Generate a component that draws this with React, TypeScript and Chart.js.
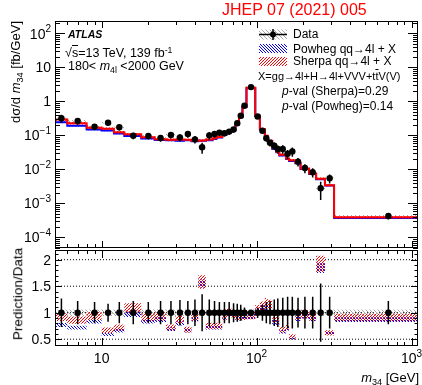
import React, { useEffect, useRef } from "react";
import { Chart, registerables } from "chart.js";
Chart.register(...registerables);

const FONT = '"Liberation Sans", Arial, Helvetica, sans-serif';

// ---- data ----
const binEdges = [5, 6, 8, 10, 12, 14, 18, 22, 26, 30, 34, 38, 42, 47, 52, 55, 60, 64, 69, 73, 77, 81, 86, 98, 105, 113, 118, 126, 134, 140, 155, 162, 178, 192, 218, 242, 276, 316, 1100];
const dataValues = [0.32, 0.267, 0.18, 0.238, 0.174, 0.099, 0.097, 0.084, 0.104, 0.088, 0.11, 0.077, 0.045, 0.101, 0.11, 0.121, 0.116, 0.13, 0.15, 0.23, 0.38, 0.75, 2.65, 0.36, 0.138, 0.083, 0.061, 0.05, 0.04, 0.04, 0.029, 0.034, 0.017, 0.011, 0.0083, 0.0028, 0.0055, 0.00043];
const dataRelErr = [0.27, 0.22, 0.2, 0.17, 0.2, 0.22, 0.2, 0.22, 0.22, 0.24, 0.22, 0.25, 0.35, 0.25, 0.22, 0.2, 0.2, 0.2, 0.18, 0.17, 0.15, 0.1, 0.05, 0.1, 0.15, 0.2, 0.22, 0.25, 0.27, 0.28, 0.3, 0.3, 0.28, 0.3, 0.3, 0.55, 0.3, 0.22];
const sherpaValues = [0.294, 0.23, 0.169, 0.159, 0.125, 0.108, 0.0883, 0.0781, 0.0749, 0.0766, 0.0748, 0.0701, 0.0711, 0.0758, 0.0825, 0.0908, 0.108, 0.13, 0.1455, 0.214, 0.35, 0.705, 2.52, 0.382, 0.155, 0.098, 0.0702, 0.044, 0.034, 0.0272, 0.0212, 0.0187, 0.01564, 0.01067, 0.00764, 0.00538, 0.00341, 0.000391];
const powhegValues = [0.246, 0.192, 0.151, 0.14, 0.115, 0.096, 0.0815, 0.0731, 0.0718, 0.0704, 0.0726, 0.0678, 0.0698, 0.0727, 0.0792, 0.0871, 0.1044, 0.1274, 0.1425, 0.2093, 0.342, 0.69, 2.46, 0.371, 0.149, 0.093, 0.0671, 0.041, 0.032, 0.0256, 0.0203, 0.01768, 0.01513, 0.01034, 0.00739, 0.00515, 0.003355, 0.000374];
const dataSystRel = 0.06;
const sherpaRelUnc = 0.08;
const powhegRelUnc = 0.05;

const xMin = 5, xMax = 1100;
const yMainMin = 4.9e-5, yMainMax = 233;
const yRatioMin = 0.372, yRatioMax = 2.183;

const mainYTicks = [
  { v: 100, b: "10", e: "2" },
  { v: 10, b: "10", e: "" },
  { v: 1, b: "1", e: "" },
  { v: 0.1, b: "10", e: "\u22121" },
  { v: 0.01, b: "10", e: "\u22122" },
  { v: 0.001, b: "10", e: "\u22123" },
  { v: 0.0001, b: "10", e: "\u22124" },
];
const ratioYTicks = [0.5, 1, 1.5, 2];
const ratioYTickLabels = ["0.5", "1", "1.5", "2"];
const ratioRefLines = [0.5, 1, 1.5, 2];
const xTickLabels = [
  { v: 10, b: "10", e: "" },
  { v: 100, b: "10", e: "2" },
  { v: 1000, b: "10", e: "3" },
];

// ---- helpers ----
const centers = binEdges.slice(0, -1).map((e, i) => (e + binEdges[i + 1]) / 2);

function steps(vals: number[]) {
  const pts: any[] = [];
  vals.forEach((v, i) => {
    pts.push({ x: binEdges[i], y: v });
    pts.push({ x: binEdges[i + 1], y: v });
  });
  return pts;
}
function errSegs(lo: number[], hi: number[]) {
  const pts: any[] = [];
  centers.forEach((c, i) => {
    pts.push({ x: c, y: lo[i] }, { x: c, y: hi[i] }, { x: c, y: null });
  });
  return pts;
}
function hatch(target: CanvasRenderingContext2D, color: string, dir: number, size = 3) {
  const c = document.createElement("canvas");
  c.width = size; c.height = size;
  const g = c.getContext("2d")!;
  g.fillStyle = color;
  for (let i = 0; i < size; i++) {
    const y = dir === 1 ? size - 1 - i : i;
    g.fillRect(i, y, 1, 1);
  }
  return target.createPattern(c, "repeat")!;
}
function band(upper: any[], lower: any[], pattern: any, order: number) {
  return [
    { data: upper, borderColor: "rgba(0,0,0,0)", borderWidth: 1, pointRadius: 0, fill: false, order },
    { data: lower, borderColor: "rgba(0,0,0,0)", borderWidth: 1, pointRadius: 0, fill: "-1", backgroundColor: pattern, order },
  ];
}
function drawLabel(ctx: CanvasRenderingContext2D, base: string, exp: string, x: number, y: number, align: string, f = 14) {
  const fe = Math.round(f * 0.72);
  ctx.font = `${f}px ${FONT}`;
  const wb = ctx.measureText(base).width;
  ctx.font = `${fe}px ${FONT}`;
  const we = exp ? ctx.measureText(exp).width : 0;
  const tot = wb + we;
  const x0 = align === "right" ? x - tot : x - tot / 2;
  ctx.textAlign = "left"; ctx.textBaseline = "alphabetic";
  ctx.font = `${f}px ${FONT}`;
  const bl = y + 0.358 * f;
  ctx.fillText(base, x0, bl);
  if (exp) { ctx.font = `${fe}px ${FONT}`; ctx.fillText(exp, x0 + wb, bl - 0.45 * f); }
}
function drawXTicks(ctx: any, xs: any, a: any, major: number, minor: number) {
  for (let k = 0; k <= 3; k++) for (let j = 1; j <= 9; j++) {
    const v = j * Math.pow(10, k);
    if (v < xMin || v > xMax) continue;
    const px = Math.round(xs.getPixelForValue(v)) + 0.5;
    const L = j === 1 ? major : minor;
    ctx.moveTo(px, a.top); ctx.lineTo(px, a.top + L);
    ctx.moveTo(px, a.bottom); ctx.lineTo(px, a.bottom - L);
  }
}

function mainConfig(ctx: CanvasRenderingContext2D): any {
  const red = hatch(ctx, "#ff0000", 1);
  const blue = hatch(ctx, "#0000ff", -1);
  const gray = hatch(ctx, "#a8a8a8", -1, 4);
  const decor = {
    id: "mainDecor",
    afterDraw(chart: any) {
      const c = chart.ctx, a = chart.chartArea, xs = chart.scales.x, ys = chart.scales.y;
      c.save();
      c.strokeStyle = "#000"; c.lineWidth = 1;
      c.strokeRect(a.left + 0.5, a.top + 0.5, a.right - a.left - 1, a.bottom - a.top - 1);
      c.beginPath();
      for (let k = -5; k <= 2; k++) for (let j = 1; j <= 9; j++) {
        const v = j * Math.pow(10, k);
        if (v < yMainMin || v > yMainMax) continue;
        const py = Math.round(ys.getPixelForValue(v)) + 0.5;
        const L = j === 1 ? 10 : 5;
        c.moveTo(a.left, py); c.lineTo(a.left + L, py);
        c.moveTo(a.right, py); c.lineTo(a.right - L, py);
      }
      drawXTicks(c, xs, a, 7, 4);
      c.stroke();
      c.fillStyle = "#000";
      mainYTicks.forEach((t) => drawLabel(c, t.b, t.e, 51, ys.getPixelForValue(t.v), "right", 14));
      // legend symbols
      c.fillStyle = gray; c.fillRect(259, 29.5, 28, 10);
      c.strokeStyle = "#000"; c.lineWidth = 1.5;
      c.beginPath(); c.moveTo(259, 34.5); c.lineTo(287, 34.5); c.moveTo(273, 29); c.lineTo(273, 40); c.stroke();
      c.fillStyle = "#000"; c.beginPath(); c.arc(273, 34.5, 3, 0, Math.PI * 2); c.fill();
      c.fillStyle = blue; c.fillRect(259, 44, 28, 9);
      c.fillStyle = red; c.fillRect(259, 57, 28, 9);
      c.restore();
    },
  };
  const datasets = [
    ...band(steps(dataValues.map((v) => v * (1 + dataSystRel))), steps(dataValues.map((v) => v * (1 - dataSystRel))), gray, 6),
    ...band(steps(powhegValues.map((v) => v * (1 + powhegRelUnc))), steps(powhegValues.map((v) => v * (1 - powhegRelUnc))), blue, 5),
    { data: steps(powhegValues), borderColor: "#0000ff", borderWidth: 2, pointRadius: 0, fill: false, order: 4 },
    ...band(steps(sherpaValues.map((v) => v * (1 + sherpaRelUnc))), steps(sherpaValues.map((v) => v * (1 - sherpaRelUnc))), red, 3),
    { data: steps(sherpaValues), borderColor: "#ff0000", borderWidth: 2, pointRadius: 0, fill: false, order: 2 },
    { data: errSegs(dataValues.map((v, i) => v * (1 - dataRelErr[i])), dataValues.map((v, i) => v * (1 + dataRelErr[i]))), borderColor: "#000", borderWidth: 1.5, pointRadius: 0, fill: false, spanGaps: false, order: 1 },
    { data: centers.map((c, i) => ({ x: c, y: dataValues[i] })), showLine: false, pointRadius: 3.2, pointBackgroundColor: "#000", pointBorderWidth: 0, order: 0 },
  ];
  return {
    type: "line",
    data: { datasets },
    options: {
      animation: false, responsive: false, maintainAspectRatio: false, events: [],
      layout: { padding: { left: 55, right: 3, top: 21, bottom: 137 } },
      plugins: { legend: { display: false }, tooltip: { enabled: false } },
      elements: { line: { tension: 0 } },
      scales: {
        x: { type: "logarithmic", min: xMin, max: xMax, display: false },
        y: { type: "logarithmic", min: yMainMin, max: yMainMax, display: false },
      },
    },
    plugins: [decor],
  };
}

function ratioConfig(ctx: CanvasRenderingContext2D): any {
  const red = hatch(ctx, "#ff0000", 1);
  const blue = hatch(ctx, "#0000ff", -1);
  const gray = hatch(ctx, "#a8a8a8", -1, 4);
  const sherpaRatio = sherpaValues.map((v, i) => v / dataValues[i]);
  const powhegRatio = powhegValues.map((v, i) => v / dataValues[i]);
  const decor = {
    id: "ratioDecor",
    afterDraw(chart: any) {
      const c = chart.ctx, a = chart.chartArea, xs = chart.scales.x, ys = chart.scales.y;
      c.save();
      c.strokeStyle = "#000"; c.lineWidth = 1;
      c.strokeRect(a.left + 0.5, a.top + 0.5, a.right - a.left - 1, a.bottom - a.top - 1);
      c.beginPath();
      for (let i = 4; i <= 21; i++) {
        const v = i / 10;
        if (v < yRatioMin || v > yRatioMax) continue;
        const py = Math.round(ys.getPixelForValue(v)) + 0.5;
        const L = i % 5 === 0 ? 7 : 3.5;
        c.moveTo(a.left, py); c.lineTo(a.left + L, py);
        c.moveTo(a.right, py); c.lineTo(a.right - L, py);
      }
      drawXTicks(c, xs, a, 8, 4);
      c.stroke();
      c.fillStyle = "#000";
      ratioYTicks.forEach((v, i) => drawLabel(c, ratioYTickLabels[i], "", 51, ys.getPixelForValue(v), "right", 14));
      xTickLabels.forEach((t) => drawLabel(c, t.b, t.e, xs.getPixelForValue(t.v), 358, "center", 14));
      c.restore();
    },
  };
  const refPts: any[] = [];
  ratioRefLines.forEach((r) => refPts.push({ x: xMin, y: r }, { x: xMax, y: r }, { x: xMax, y: null }));
  const datasets = [
    { data: refPts, borderColor: "#000", borderWidth: 1, borderDash: [1, 2], pointRadius: 0, fill: false, spanGaps: false, order: 10 },
    ...band([{ x: xMin, y: 1 + dataSystRel }, { x: xMax, y: 1 + dataSystRel }], [{ x: xMin, y: 1 - dataSystRel }, { x: xMax, y: 1 - dataSystRel }], gray, 9),
    ...band(steps(powhegRatio.map((v) => v * (1 + powhegRelUnc))), steps(powhegRatio.map((v) => v * (1 - powhegRelUnc))), blue, 8),
    ...band(steps(sherpaRatio.map((v) => v * (1 + sherpaRelUnc))), steps(sherpaRatio.map((v) => v * (1 - sherpaRelUnc))), red, 7),
    { data: errSegs(dataRelErr.map((e) => 1 - e), dataRelErr.map((e) => 1 + e)), borderColor: "#000", borderWidth: 1.5, pointRadius: 0, fill: false, spanGaps: false, order: 1 },
    { data: centers.map((c, i) => ({ x: c, y: dataValues[i] / dataValues[i] })), showLine: false, pointRadius: 3.2, pointBackgroundColor: "#000", pointBorderWidth: 0, order: 0 },
  ];
  return {
    type: "line",
    data: { datasets },
    options: {
      animation: false, responsive: false, maintainAspectRatio: false, events: [],
      layout: { padding: { left: 55, right: 3, top: 250, bottom: 39 } },
      plugins: { legend: { display: false }, tooltip: { enabled: false } },
      elements: { line: { tension: 0 } },
      scales: {
        x: { type: "logarithmic", min: xMin, max: xMax, display: false },
        y: { type: "linear", min: yRatioMin, max: yRatioMax, display: false },
      },
    },
    plugins: [decor],
  };
}

const sub = (t: string) => <span style={{ fontSize: "0.7em", position: "relative", top: "0.3em", lineHeight: 0 }}>{t}</span>;
const sup = (t: string) => <span style={{ fontSize: "0.7em", position: "relative", top: "-0.45em", lineHeight: 0 }}>{t}</span>;

function Txt(props: { x: number; base: number; f: number; style?: any; children: any; right?: boolean }) {
  const { x, base, f, style, children, right } = props;
  const pos: any = right ? { right: 422 - x } : { left: x };
  return (
    <div style={{ position: "absolute", top: base - 0.8465 * f, fontSize: f, lineHeight: `${f}px`, whiteSpace: "nowrap", ...pos, ...style }}>
      {children}
    </div>
  );
}
function VTxt(props: { cx: number; cy: number; f: number; children: any }) {
  const { cx, cy, f, children } = props;
  return (
    <div style={{ position: "absolute", left: cx, top: cy, fontSize: f, lineHeight: `${f}px`, whiteSpace: "nowrap", transform: "translate(-50%,-50%) rotate(-90deg)" }}>
      {children}
    </div>
  );
}

export default function App() {
  const mainRef = useRef<HTMLCanvasElement>(null);
  const ratioRef = useRef<HTMLCanvasElement>(null);
  useEffect(() => {
    const mctx = mainRef.current!.getContext("2d")!;
    const rctx = ratioRef.current!.getContext("2d")!;
    const main = new Chart(mctx, mainConfig(mctx));
    const ratio = new Chart(rctx, ratioConfig(rctx));
    return () => { main.destroy(); ratio.destroy(); };
  }, []);
  const it = (t: string) => <i>{t}</i>;
  return (
    <div style={{ position: "fixed", left: 0, top: 0, width: 422, height: 385, background: "#fff", fontFamily: FONT, color: "#000", overflow: "hidden" }}>
      <canvas ref={mainRef} width={422} height={385} style={{ position: "absolute", left: 0, top: 0 }} />
      <canvas ref={ratioRef} width={422} height={385} style={{ position: "absolute", left: 0, top: 0 }} />
      <Txt x={222} base={16} f={16} style={{ color: "#ff0000" }}>JHEP 07 (2021) 005</Txt>
      <Txt x={68} base={38.3} f={10.5} style={{ fontWeight: "bold", fontStyle: "italic" }}>ATLAS</Txt>
      <Txt x={65} base={57.3} f={12.5}>√<span style={{ borderTop: "1px solid #000" }}>s</span>=13 TeV, 139 fb{sup("-1")}</Txt>
      <Txt x={68} base={71} f={12.5}>180&lt; {it("m")}{sub("4l")} &lt;2000 GeV</Txt>
      <Txt x={293} base={38.3} f={12}>Data</Txt>
      <Txt x={293} base={53} f={12}>Powheg qq→4l + X</Txt>
      <Txt x={293} base={65.5} f={12}>Sherpa qq→4l + X</Txt>
      <Txt x={258} base={80} f={11}>X=gg→4l+H→4l+VVV+t<span style={{ textDecoration: "overline" }}>t</span>V(V)</Txt>
      <Txt x={282} base={95.3} f={12}>{it("p")}-val (Sherpa)=0.29</Txt>
      <Txt x={282} base={110} f={12}>{it("p")}-val (Powheg)=0.14</Txt>
      <Txt x={419} base={382} f={13} right>{it("m")}{sub("34")} [GeV]</Txt>
      <VTxt cx={15} cy={71.5} f={13}>dσ/d {it("m")}{sub("34")} [fb/GeV]</VTxt>
      <VTxt cx={18} cy={294} f={13.5}>Prediction/Data</VTxt>
    </div>
  );
}
